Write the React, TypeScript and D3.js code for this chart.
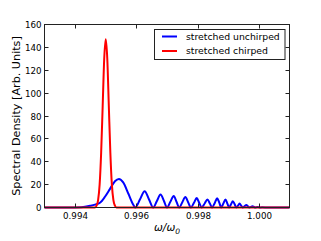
import * as d3 from 'd3';

// frequency axis (omega / omega_0) and spectral density
const unchirpedOmega = [
  0.993, 0.9938, 0.9942, 0.99449, 0.99465, 0.99481, 0.99498, 0.99514, 0.9953, 0.99543, 0.99557, 0.99574, 0.9959, 0.99596,
  0.99612, 0.99627, 0.99641, 0.99655,
  0.99667, 0.99679, 0.9969, 0.997,
  0.99711, 0.99722, 0.99731, 0.9974,
  0.9975, 0.9976, 0.99769, 0.99778,
  0.99788, 0.99797, 0.99805, 0.99813,
  0.99823, 0.99832, 0.9984, 0.99847,
  0.99856, 0.99864, 0.99871, 0.99877,
  0.99884, 0.99891, 0.99897, 0.99903,
  0.99909, 0.99915, 0.99921, 0.99926,
  0.99932, 0.99937, 0.99942, 0.99947,
  0.99953, 0.99959, 0.99964, 0.99969,
  0.99974, 0.99979, 0.99984, 0.99988,
  0.99992, 0.99996, 1.0, 1.00004,
  1.0001, 1.0003, 1.001,
];
const unchirpedDensity = [
  0, 0, 0.3, 1.5, 2.5, 4.1, 9.6, 16.3, 23, 25, 22, 12, 2.4, 0,
  7.2, 14.3, 7.2, 0,
  5.7, 11.4, 5.7, 0,
  5.0, 10.0, 5.0, 0,
  4.6, 9.1, 4.6, 0,
  4.1, 8.2, 4.1, 0,
  3.5, 7.0, 3.5, 0,
  4.0, 8.0, 4.0, 0,
  3.5, 7.0, 3.5, 0,
  2.8, 5.5, 2.8, 0,
  1.7, 3.4, 1.7, 0,
  1.1, 2.2, 1.1, 0,
  0.55, 1.1, 0.55, 0,
  0.25, 0.5, 0.25, 0,
  0.15, 0, 0,
];

const chirpedOmega = [
  0.993, 0.99465, 0.9947, 0.99475, 0.9948, 0.99485, 0.9949, 0.99495, 0.995,
  0.99505, 0.9951, 0.99515, 0.9952, 0.99525, 0.9953, 0.99535, 1.001,
];
const chirpedDensity = [0, 0, 1.6, 6.5, 20, 48, 89, 130, 147, 130, 89, 48, 20, 6.5, 1.6, 0, 0];

const xTicks = [0.994, 0.996, 0.998, 1.0];
const yTicks = [0, 20, 40, 60, 80, 100, 120, 140, 160];

const seriesNames = ['stretched unchirped', 'stretched chirped'];
const seriesColors = ['#0000ff', '#ff0000'];

const W = 321;
const H = 241;
const left = 44.5;
const right = 289.5;
const top = 24.5;
const bottom = 207.5;
const font = 'DejaVu Sans, sans-serif';

export default function App() {
  const x = d3.scaleLinear().domain([0.993, 1.001]).range([left, right]);
  const y = d3.scaleLinear().domain([0, 160]).range([bottom, top]);

  const line = d3
    .line<[number, number]>()
    .x(d => x(d[0]))
    .y(d => y(d[1]))
    .curve(d3.curveMonotoneX);

  const blue = line(unchirpedOmega.map((w, i) => [w, unchirpedDensity[i]] as [number, number])) || '';
  const red = line(chirpedOmega.map((w, i) => [w, chirpedDensity[i]] as [number, number])) || '';

  const tl = 4;

  return (
    <svg width={W} height={H} style={{ position: 'absolute', left: 0, top: 0 }} fontFamily={font}>
      <rect width={W} height={H} fill="#fff" />

      <path d={blue} fill="none" stroke={seriesColors[0]} strokeWidth={2} strokeLinejoin="round" />
      <path d={red} fill="none" stroke={seriesColors[1]} strokeWidth={2} strokeLinejoin="round" />

      {/* frame */}
      <rect x={left} y={top} width={right - left} height={bottom - top} fill="none" stroke="#222" strokeWidth={1} />

      {/* ticks, matplotlib classic: inward on all four sides */}
      {xTicks.map(t => {
        const px = Math.round(x(t)) + 0.5;
        return (
          <g key={'x' + t}>
            <line x1={px} x2={px} y1={bottom} y2={bottom - tl} stroke="#222" />
            <line x1={px} x2={px} y1={top} y2={top + tl} stroke="#222" />
            <text x={px} y={219} fontSize={8.7} textAnchor="middle" fill="#000">
              {d3.format('.3f')(t)}
            </text>
          </g>
        );
      })}
      {yTicks.map(t => {
        const py = Math.round(y(t) - 0.5) + 0.5;
        return (
          <g key={'y' + t}>
            <line x1={left} x2={left + tl} y1={py} y2={py} stroke="#222" />
            <line x1={right} x2={right - tl} y1={py} y2={py} stroke="#222" />
            <text x={left - 3} y={py + 3} fontSize={8.7} textAnchor="end" fill="#000">
              {t}
            </text>
          </g>
        );
      })}

      {/* axis labels */}
      <text
        transform={`translate(20,${(top + bottom) / 2}) rotate(-90)`}
        fontSize={11.2}
        textAnchor="middle"
        fill="#000"
      >
        Spectral Density [Arb. Units]
      </text>
      <text x={(left + right) / 2} y={231} fontSize={10.5} textAnchor="middle" fill="#000" fontStyle="italic">
        ω/ω<tspan fontSize={7.5} dy={2.5}>0</tspan>
      </text>

      {/* legend */}
      <rect x={154.5} y={29.5} width={130.5} height={30} fill="#fff" stroke="#222" strokeWidth={1} />
      {seriesNames.map((name, i) => {
        const ly = 36.5 + i * 14.5;
        return (
          <g key={name}>
            <line x1={162} x2={177} y1={ly} y2={ly} stroke={seriesColors[i]} strokeWidth={2} />
            <text x={186} y={ly + 3.3} fontSize={9.3} fill="#000">
              {name}
            </text>
          </g>
        );
      })}
    </svg>
  );
}
